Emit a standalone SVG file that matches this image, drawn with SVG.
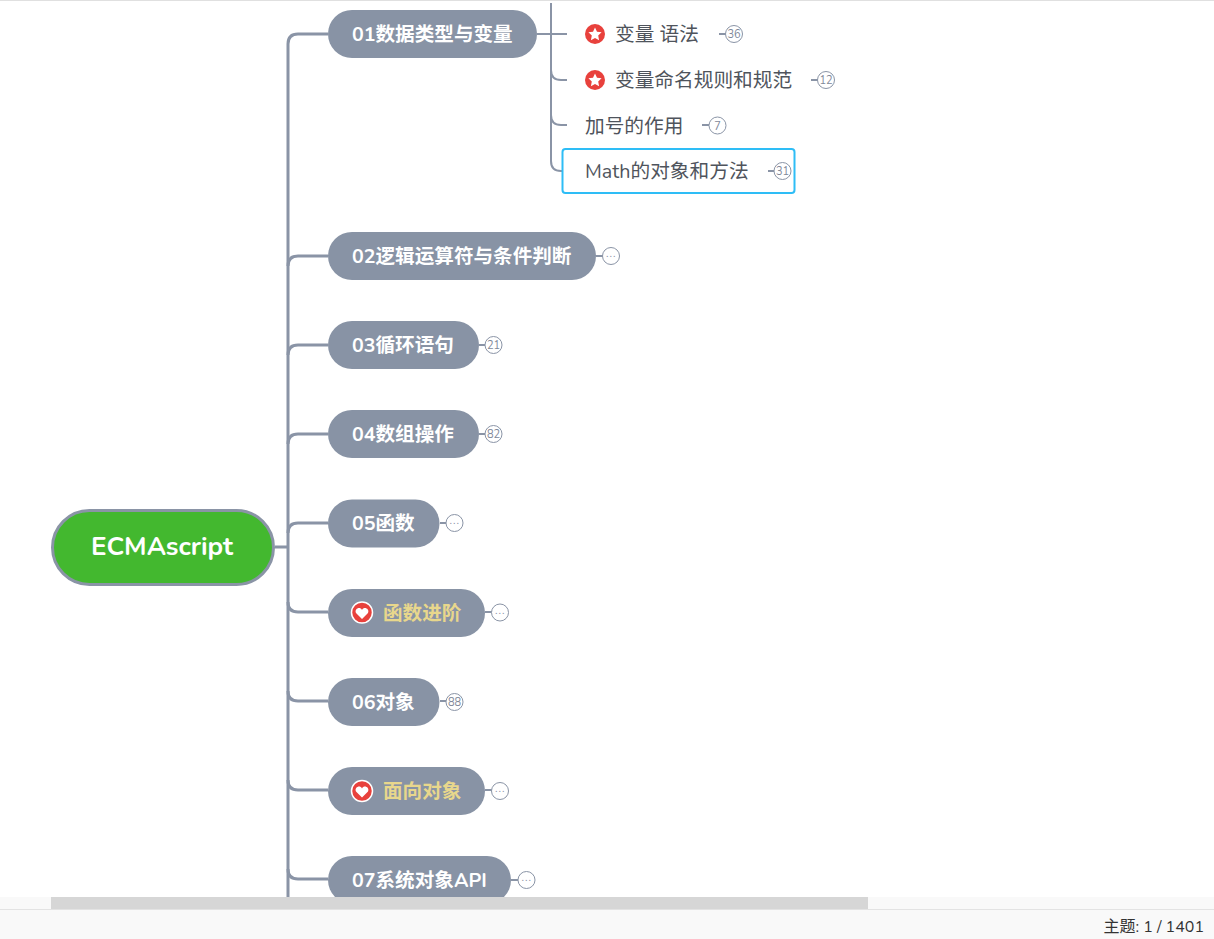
<svg xmlns="http://www.w3.org/2000/svg" width="1214" height="939" viewBox="0 0 1214 939">
<style>
text{font-family:"Nunito","Lato","Noto Sans CJK SC",sans-serif}
.c{fill:none;stroke:#8a94a6;stroke-width:3}
.t{fill:none;stroke:#8a94a6;stroke-width:2}
.p{fill:#8893a5}
.lb{font-size:19.600px;font-weight:700;fill:#fff}
.ly{font-size:19.600px;font-weight:700;fill:#e8d78c}
.s{font-size:19.700px;fill:#4f545c}
.b{fill:#fff;stroke:#8a94a6;stroke-width:1}
.n{font-size:11px;fill:#7f8899;text-anchor:middle}
.d{font-size:8px;font-weight:700;fill:#8a94a6;text-anchor:middle;letter-spacing:1.500px}
</style>
<rect width="1214" height="939" fill="#fff"/>
<rect width="1214" height="1" fill="#e0e0e0"/>
<g id="connectors">
<path class="c" d="M275 547H288M288 44V897"/>
<path class="c" d="M328 34H298Q288 34 288 44"/>
<path class="c" d="M328 256H298Q288 256 288 266"/>
<path class="c" d="M328 345H298Q288 345 288 355"/>
<path class="c" d="M328 434H298Q288 434 288 444"/>
<path class="c" d="M328 523H298Q288 523 288 533"/>
<path class="c" d="M328 612H298Q288 612 288 602"/>
<path class="c" d="M328 701H298Q288 701 288 691"/>
<path class="c" d="M328 790H298Q288 790 288 780"/>
<path class="c" d="M328 879H298Q288 879 288 869"/>
<path class="t" d="M537 34H567M551 3V161Q551 171 561 171H567M551 70Q551 80 561 80H567M551 115Q551 125 561 125H567"/>
<path class="t" d="M719 34H726M811 80H818M702 125H709M596 256H603M479 345H485M479 434H485M440 523H446M485 612H492M440 701H446M485 790H492M511 880H518"/>
</g>
<g id="root">
<rect x="52.500" y="510.500" width="221" height="74" rx="37" fill="#43b82f" stroke="#8a94a6" stroke-width="3"/>
<text x="162" y="555" font-size="26" font-weight="700" fill="#fff" text-anchor="middle">ECMAscript</text>
</g>
<g id="n01"><rect class="p" x="328" y="10" width="209" height="48" rx="24"/><text class="lb" x="352" y="41">01数据类型与变量</text></g>
<g id="n02"><rect class="p" x="328" y="232" width="268" height="48" rx="24"/><text class="lb" x="352" y="263">02逻辑运算符与条件判断</text><circle class="b" cx="611" cy="256" r="8.500"/><text class="d" x="611.500" y="257">...</text></g>
<g id="n03"><rect class="p" x="328" y="321" width="151" height="48" rx="24"/><text class="lb" x="352" y="352">03循环语句</text><circle class="b" cx="493.500" cy="345" r="8.500"/><text class="n" x="493.500" y="349">21</text></g>
<g id="n04"><rect class="p" x="328" y="410" width="151" height="48" rx="24"/><text class="lb" x="352" y="441">04数组操作</text><circle class="b" cx="493.500" cy="434" r="8.500"/><text class="n" x="493.500" y="438">82</text></g>
<g id="n05"><rect class="p" x="328" y="499.500" width="111.500" height="48" rx="24"/><text class="lb" x="352" y="530">05函数</text><circle class="b" cx="454.500" cy="523" r="8.500"/><text class="d" x="455" y="524">...</text></g>
<g id="n06"><rect class="p" x="328" y="589" width="157" height="48" rx="24"/><circle cx="362" cy="612.500" r="10.500" fill="#e8413c" stroke="#fff" stroke-width="1.500"/><path d="M362 619l-6-6c-2-4 4-7 6-3c2-4 8-1 6 3z" fill="#fff"/><text class="ly" x="383" y="619.500">函数进阶</text><circle class="b" cx="500" cy="612.500" r="8.500"/><text class="d" x="500.500" y="613.500">...</text></g>
<g id="n07"><rect class="p" x="328" y="678" width="111.500" height="48" rx="24"/><text class="lb" x="352" y="709">06对象</text><circle class="b" cx="454.500" cy="702" r="8.500"/><text class="n" x="454.500" y="706">88</text></g>
<g id="n08"><rect class="p" x="328" y="767" width="157" height="48" rx="24"/><circle cx="362" cy="791" r="10.500" fill="#e8413c" stroke="#fff" stroke-width="1.500"/><path d="M362 797.500l-6-6c-2-4 4-7 6-3c2-4 8-1 6 3z" fill="#fff"/><text class="ly" x="383" y="798">面向对象</text><circle class="b" cx="500" cy="791" r="8.500"/><text class="d" x="500.500" y="792">...</text></g>
<g id="n09"><rect class="p" x="328" y="856" width="183" height="48" rx="24"/><text class="lb" x="352" y="887">07系统对象API</text><circle class="b" cx="526.500" cy="880" r="8.500"/><text class="d" x="527" y="881">...</text></g>
<g id="s1"><circle cx="595" cy="34" r="10" fill="#e8413c"/><path d="M595 27.500l2 4.300 4.600.5-3.400 3.200.9 4.700-4.100-2.300-4.100 2.300.9-4.700-3.400-3.200 4.600-.5z" fill="#fff"/><text class="s" x="615" y="41">变量 语法</text><circle class="b" cx="734" cy="34" r="8.500"/><text class="n" x="734" y="38">36</text></g>
<g id="s2"><circle cx="595" cy="80" r="10" fill="#e8413c"/><path d="M595 73.500l2 4.300 4.600.5-3.400 3.200.9 4.700-4.100-2.300-4.100 2.300.9-4.700-3.400-3.200 4.600-.5z" fill="#fff"/><text class="s" x="615" y="87">变量命名规则和规范</text><circle class="b" cx="826" cy="80" r="8.500"/><text class="n" x="826" y="84">12</text></g>
<g id="s3"><text class="s" x="585" y="132.500">加号的作用</text><circle class="b" cx="717.500" cy="125.500" r="8.500"/><text class="n" x="717.500" y="129.500">7</text></g>
<g id="s4"><rect x="562.500" y="149" width="232" height="44" rx="3" fill="#fff" stroke="#2ebdf6" stroke-width="2"/><path class="t" d="M768 171H775"/><text class="s" x="585" y="178">Math的对象和方法</text><circle class="b" cx="782.500" cy="171" r="8.500"/><text class="n" x="782.500" y="175">31</text></g>
<rect y="897" width="1214" height="42" fill="#f9f9f9"/>
<rect x="51" y="897" width="817" height="12" fill="#d6d6d6"/>
<rect y="909" width="1214" height="1" fill="#e3e3e3"/>
<text x="1204" y="932" font-size="16" fill="#333" text-anchor="end">主题: 1 / 1401</text>
</svg>
